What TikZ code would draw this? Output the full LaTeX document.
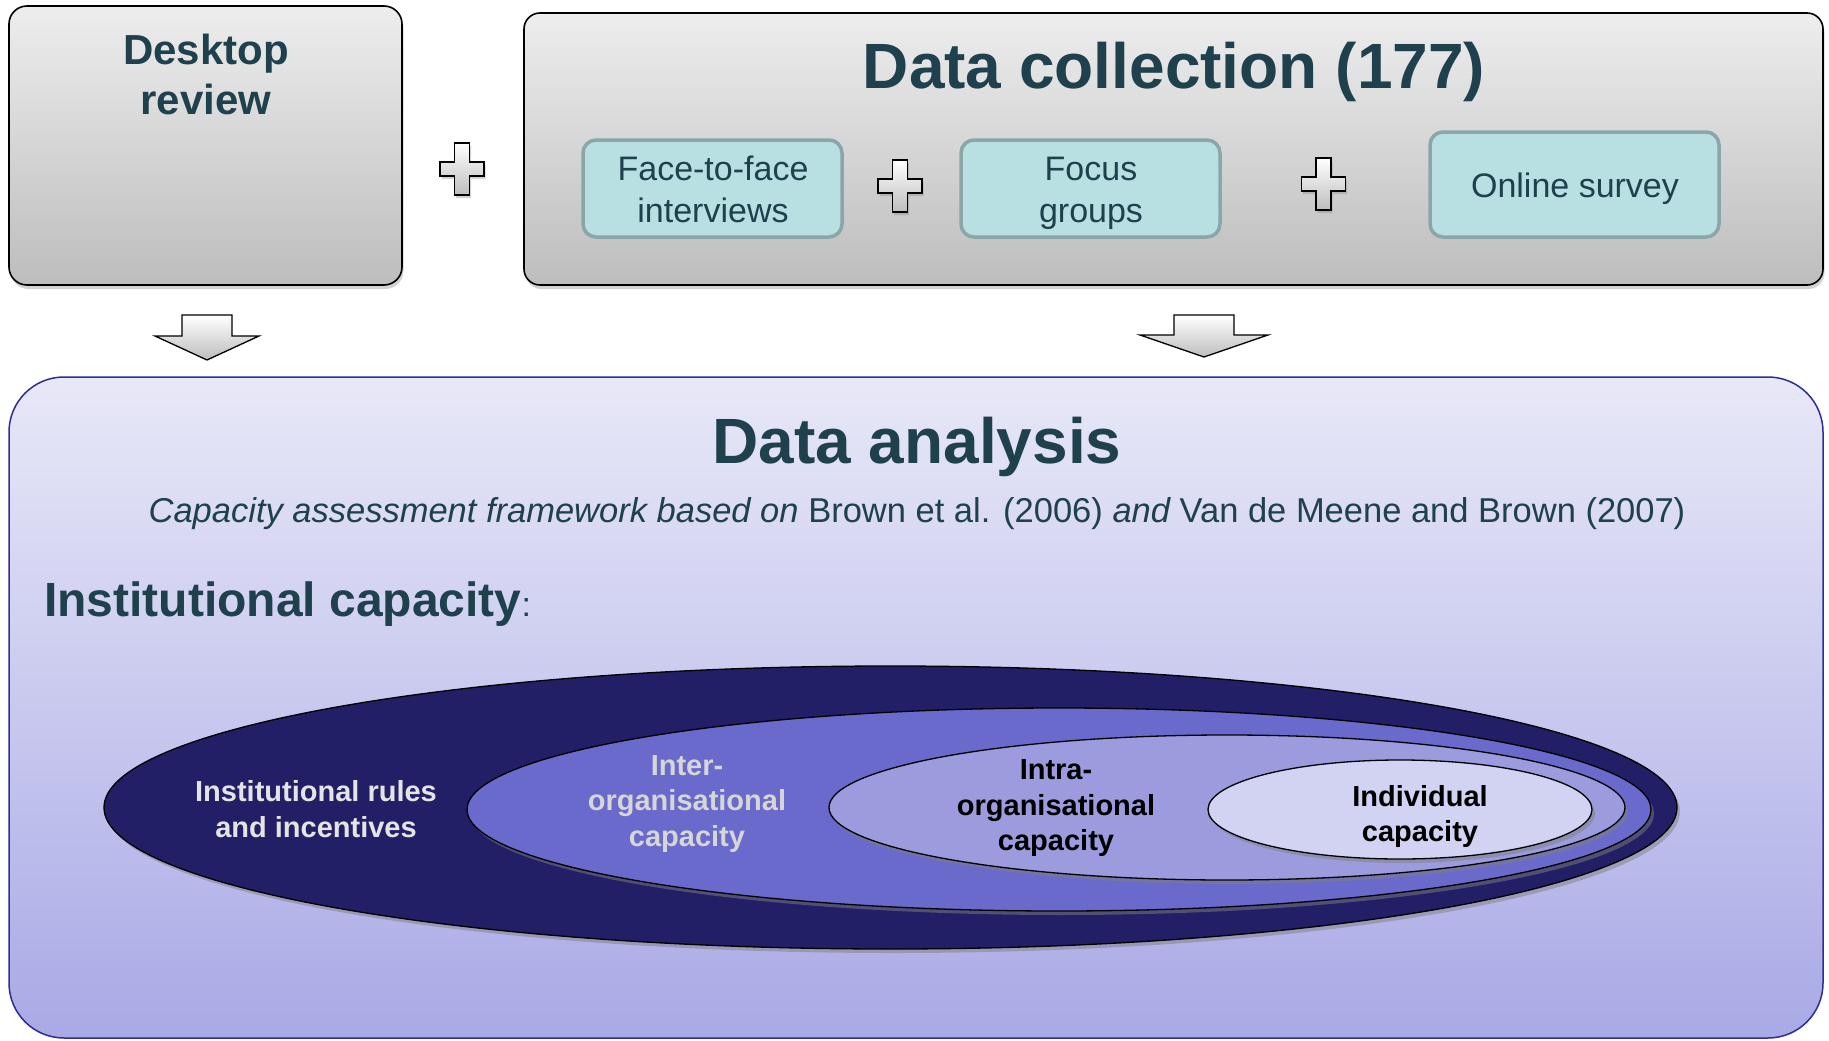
\documentclass[tikz,border=0pt]{standalone}
\usepackage{fontspec}
\setmainfont{Liberation Sans}
\usetikzlibrary{shadows,shapes.geometric}
\definecolor{txt}{HTML}{1F404D}
\definecolor{boxtop}{HTML}{EDEDED}
\definecolor{boxbot}{HTML}{BDBDBD}
\definecolor{tealfill}{HTML}{B8DFE2}
\definecolor{tealline}{HTML}{8AA6A8}
\definecolor{antop}{HTML}{E8E8F8}
\definecolor{anbot}{HTML}{A9A9E6}
\definecolor{anline}{HTML}{2D2D96}
\definecolor{eone}{HTML}{221F66}
\definecolor{etwo}{HTML}{6A6ACC}
\definecolor{ethree}{HTML}{9B9BDD}
\definecolor{efour}{HTML}{D2D2F2}
\definecolor{lighttxt}{HTML}{E4E4E4}
\definecolor{greytxt}{HTML}{D6D6D6}
\newcommand\fsz[2]{\fontsize{#1}{#2}\selectfont}
\begin{document}
\begin{tikzpicture}[x=1pt,y=-1pt,
  graybox/.style={draw=black,line width=1.6pt,rounded corners=18pt,top color=boxtop,bottom color=boxbot,inner sep=0pt,outer sep=0pt,
    drop shadow={shadow xshift=1.5pt,shadow yshift=-4pt,opacity=0.35}},
  tealbox/.style={draw=tealline,line width=3.5pt,fill=tealfill,rounded corners=13pt,inner sep=0pt,
    minimum height=97pt,minimum width=259pt},
  tealtext/.style={text=txt,font=\fsz{34}{42},align=center},
  plussign/.style={draw=black,line width=1.3pt,top color=white,bottom color=boxbot,
    drop shadow={shadow xshift=1.5pt,shadow yshift=-3pt,opacity=0.35}},
  blockarrow/.style={draw=black,line width=1.3pt,top color=white,bottom color=boxbot},
  ell/.style={ellipse,draw=black,line width=1.3pt,inner sep=0pt,
    drop shadow={shadow xshift=3pt,shadow yshift=-4pt,opacity=0.5}},
  etext/.style={font=\bfseries\fsz{29}{35.5},align=center}
]
\useasboundingbox (0,0) rectangle (1829,1041);

% top boxes
\node[graybox,minimum width=393pt,minimum height=279pt] (desk) at (205.5,145.5) {};
\node[text=txt,font=\bfseries\fsz{42}{50},align=center] (desktitle) at (206,74.7) {Desktop\\review};

\node[graybox,rounded corners=16pt,minimum width=1299pt,minimum height=272pt] (coll) at (1173.5,149) {};
\node[text=txt,font=\bfseries\fsz{64}{70}] (colltitle) at (1174,71.5) {Data collection (177)};

\node[tealbox] (f2f) at (712.5,188.5) {};
\node[tealbox] (focus) at (1090.5,188.5) {};
\node[tealbox,minimum width=289pt,minimum height=105pt] (online) at (1574.5,184.5) {};
\node[tealtext] (f2ftext) at (713,189.8) {Face-to-face\\interviews};
\node[tealtext] (focustext) at (1091,193) {Focus\\groups};
\node[tealtext] (onlinetext) at (1575,189) {Online survey};

% plus signs
\coordinate (p1) at (462,169);
\coordinate (p2) at (900,186);
\coordinate (p3) at (1323.5,184);
\foreach \p in {p1,p2,p3}{
  \draw[plussign] (\p) +(-7.5,-26) -- +(7.5,-26) -- +(7.5,-7) -- +(22,-7) -- +(22,7) -- +(7.5,7)
    -- +(7.5,26) -- +(-7.5,26) -- +(-7.5,7) -- +(-22,7) -- +(-22,-7) -- +(-7.5,-7) -- cycle;
}

% analysis box
\node[draw=anline,line width=1.5pt,rounded corners=55pt,top color=antop,bottom color=anbot,
  minimum width=1814pt,minimum height=661pt,inner sep=0pt,outer sep=0pt] (anal) at (916,707.5) {};

% block arrows
\coordinate (a1) at (207,315);
\draw[blockarrow] (a1) +(-25,0) -- +(25,0) -- +(25,21) -- +(52,21) -- +(0,45) -- +(-52,21) -- +(-25,21) -- cycle;
\coordinate (a2) at (1204,315);
\draw[blockarrow] (a2) +(-30,0) -- +(30,0) -- +(30,20) -- +(64,20) -- +(0,42) -- +(-64,20) -- +(-30,20) -- cycle;

\node[text=txt,font=\bfseries\fsz{64}{70}] (antitle) at (917,447.3) {Data analysis};
\node[text=txt,font=\fsz{34.5}{40}] (ansub) at (917,513.3)
  {\itshape Capacity assessment framework based on\upshape\ Brown et al. (2006) \itshape and\upshape\ Van de Meene and Brown (2007)};
\node[text=txt,anchor=west,inner sep=0pt] (inst) at (44,604.5)
  {\bfseries\fsz{48}{54}Institutional capacity\mdseries\fsz{34}{40}:};

% ellipses
\node[ell,fill=eone,minimum width=1573pt,minimum height=283pt] (e1) at (890.5,807.5) {};
\node[ell,fill=etwo,minimum width=1184pt,minimum height=203pt] (e2) at (1059,809.5) {};
\node[ell,fill=ethree,minimum width=796pt,minimum height=145pt] (e3) at (1227,807.5) {};
\node[ell,fill=efour,minimum width=384pt,minimum height=99pt] (e4) at (1400,809.5) {};

\node[etext,text=lighttxt] (t1) at (316,809) {Institutional rules\\and incentives};
\node[etext,text=greytxt] (t2) at (687,804) {Inter-\\organisational\\capacity};
\node[etext,text=black] (t3) at (1056,808.3) {Intra-\\organisational\\capacity};
\node[etext,text=black] (t4) at (1420,816.5) {Individual\\capacity};
\end{tikzpicture}
\end{document}
